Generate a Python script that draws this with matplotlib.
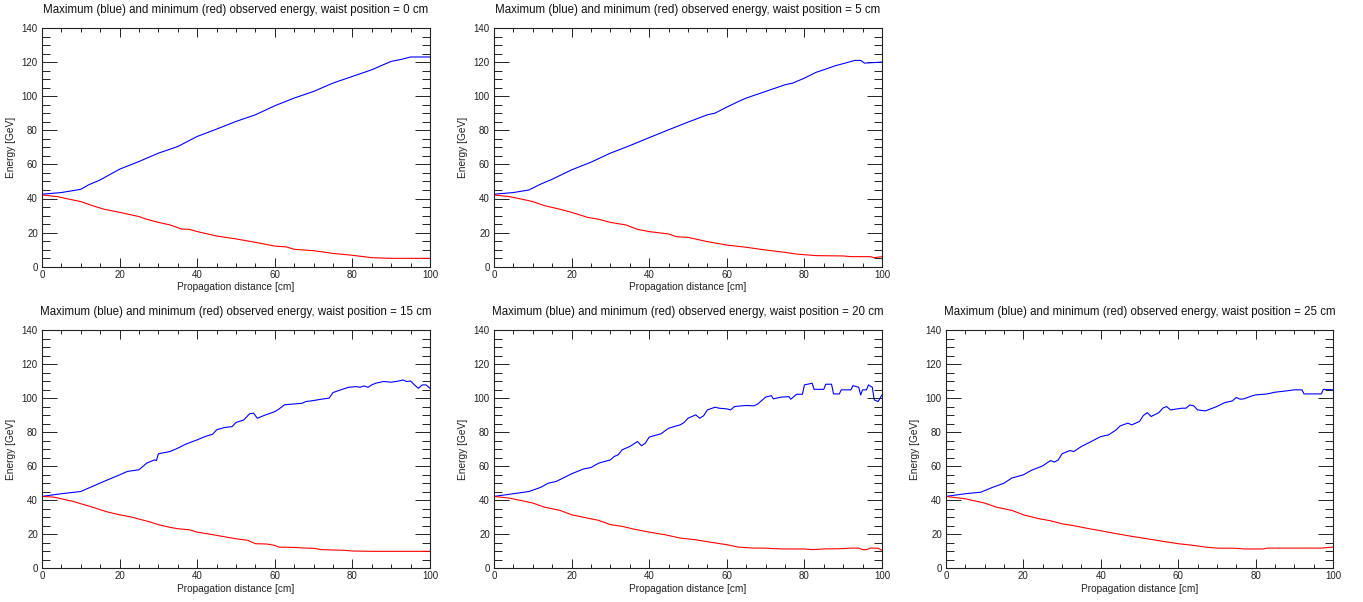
import matplotlib
matplotlib.use("Agg")
import matplotlib.pyplot as plt
from matplotlib.ticker import MultipleLocator

plt.rcParams['font.family'] = ['Liberation Sans', 'DejaVu Sans']

# ---- data ----
# waist = 0 cm
x_max_0 = [0, 5, 9, 10, 12, 15, 20, 25, 30, 35, 40, 45, 50, 55, 60, 65, 70, 75, 80, 85, 88, 90, 93, 95, 100]
e_max_0 = [42.5, 43.5, 45, 45.4, 48, 50.9, 57.2, 61.7, 66.6, 70.5, 76.4, 80.7, 85.2, 89.1, 94.4, 98.9, 102.8, 107.7, 111.6, 115.5, 118.5, 120.4, 121.8, 123, 123]
x_min_0 = [0, 4, 7, 10, 13, 16, 20, 23, 25, 27, 30, 33, 36, 38, 40, 45, 50, 55, 60, 63, 65, 70, 75, 80, 85, 90, 100]
e_min_0 = [42.1, 41.1, 39.6, 38.2, 35.8, 33.7, 31.9, 30.4, 29.4, 27.8, 26, 24.5, 22.1, 21.9, 20.6, 18, 16.3, 14.3, 12.1, 11.6, 10.2, 9.4, 7.8, 6.7, 5.3, 4.9, 4.9]

# waist = 5 cm
x_max_5 = [0, 5, 9, 12, 15, 20, 25, 30, 35, 40, 45, 50, 55, 57, 60, 63, 65, 70, 75, 77, 80, 83, 85, 88, 90, 93, 94.5, 95.5, 100]
e_max_5 = [42.5, 43.5, 45, 48.4, 51.3, 56.8, 61.3, 66.6, 71, 75.7, 80.3, 84.8, 89.1, 90.1, 93.6, 96.9, 98.9, 102.8, 106.7, 107.7, 110.6, 114, 115.5, 117.9, 119.1, 121, 121, 119.4, 120]
x_min_5 = [0, 4, 8, 10, 13, 17, 20, 24, 27, 30, 34, 37, 40, 45, 47, 50, 55, 60, 65, 70, 75, 78, 83, 90, 92, 97, 98, 100]
e_min_5 = [42.1, 41.1, 39.2, 38.2, 35.8, 33.7, 31.9, 29, 27.8, 26, 24.5, 21.9, 20.6, 19.2, 17.6, 17.2, 14.7, 12.7, 11.4, 9.8, 8.4, 7.4, 6.5, 6.3, 5.9, 5.9, 5.3, 5.9]

# waist = 15 cm
x_max_15 = [0, 5, 10, 15, 20, 22, 25, 27, 29, 29.5, 30, 33, 35, 37, 40, 42, 44, 45, 47, 49, 50, 52, 53.5, 54.5, 55.5, 57, 60, 61, 62.5, 65, 67, 68, 70, 72, 74, 75, 77, 79, 81, 82, 83, 84, 85, 86, 88, 90, 92, 93, 94, 95, 96, 97, 98, 99, 100]
e_max_15 = [42.1, 43.7, 45, 50, 54.8, 56.8, 57.8, 61.7, 63.6, 63.2, 67.2, 68.5, 70.5, 72.8, 75.4, 77.3, 78.7, 81.3, 82.6, 83.2, 85.6, 87.1, 90.7, 91.1, 88.1, 89.5, 92, 93.4, 96, 96.5, 96.9, 97.9, 98.5, 99.3, 99.9, 103.2, 104.8, 106.3, 106.7, 106.3, 107.1, 106.3, 107.7, 108.7, 109.7, 109.3, 110, 110.6, 109.7, 110, 107.7, 105.7, 107.7, 107.7, 105.7]
x_min_15 = [0, 3, 5, 8, 10, 13, 15, 17, 20, 23, 25, 28, 30, 33, 35, 38, 40, 43, 45, 48, 50, 53, 55, 58, 60, 61, 65, 68, 70, 72, 75, 78, 80, 85, 100]
e_min_15 = [42.1, 41.7, 40.7, 39.2, 37.8, 35.8, 34.3, 32.9, 31.3, 30, 28.8, 27, 25.5, 23.9, 23.1, 22.5, 21.1, 20, 19.2, 18, 17.2, 16.3, 14.3, 14.1, 13.3, 12.3, 12.1, 11.7, 11.6, 10.8, 10.6, 10.4, 10, 9.8, 9.8]

# waist = 20 cm
x_max_20 = [0, 5, 9, 12, 14, 16, 20, 23, 25, 27, 30, 31, 32, 33, 35, 37, 38, 39, 40, 42, 43, 45, 47, 48, 49, 50, 52, 53, 54, 55, 57, 58, 60, 61, 62, 65, 67, 68, 70, 71.5, 72, 74, 76, 76.5, 78, 79.5, 80, 82, 82.5, 85, 85.5, 87, 87.5, 89, 89.5, 92, 92.5, 94, 94.5, 95, 96, 96.5, 97.5, 98, 99, 100]
e_max_20 = [42.1, 43.7, 45, 47.4, 49.9, 50.9, 55.4, 58.2, 59.1, 61.7, 63.6, 65.6, 66.6, 69.5, 71.5, 74.4, 71.9, 73.4, 77, 78.3, 78.9, 82.2, 83.6, 84.2, 85.6, 88.1, 90.1, 88.1, 89.5, 93, 94.6, 94, 93.6, 93, 95, 95.6, 95.4, 96.5, 100.5, 101.4, 99.5, 100.5, 100.8, 99.3, 102.2, 102.2, 107.7, 108.7, 105.1, 105.1, 108.1, 108.1, 102.4, 102.4, 104.8, 104.8, 107.3, 106.3, 101.8, 104.8, 104.8, 107.7, 106.3, 98.9, 97.9, 101.8]
x_min_20 = [0, 4, 8, 10, 13, 17, 20, 24, 27, 30, 33, 36, 40, 44, 48, 52, 56, 60, 63, 67, 70, 72, 75, 80, 82, 85, 90, 92, 94, 95, 96, 97, 99, 100]
e_min_20 = [42.1, 41.1, 39.2, 38.2, 35.8, 33.9, 31.3, 29.4, 28, 25.5, 24.5, 22.9, 21.1, 19.6, 17.6, 16.6, 15.1, 13.7, 12.3, 11.7, 11.7, 11.4, 11.2, 11.2, 10.8, 11.2, 11.4, 11.7, 11.7, 10.8, 10.8, 11.7, 11.6, 10.4]

# waist = 25 cm
x_max_25 = [0, 5, 9, 12, 15, 17, 20, 22, 25, 27, 28, 29, 30, 32, 33, 35, 37, 40, 42, 44, 45, 47, 48, 50, 51, 52, 53, 55, 56, 57, 58, 61, 62, 63, 64, 65, 67, 70, 72, 74, 75, 76, 77, 79, 80, 83, 85, 88, 90, 92, 92.5, 97, 97.5, 100]
e_max_25 = [42.1, 43.7, 44.6, 47.4, 49.9, 52.9, 54.8, 57.4, 60.1, 63.2, 62.3, 63.6, 67.2, 69.1, 68.5, 71.5, 73.8, 77.3, 78.3, 81.3, 83.6, 85.2, 84.2, 86.2, 89.7, 91.4, 89.1, 91.4, 94, 95, 93, 94, 94, 95.9, 95.4, 93, 92.4, 95, 97.3, 98.3, 100.3, 99.3, 99.5, 101.2, 101.8, 102.4, 103.4, 104.2, 104.8, 104.8, 102.4, 102.4, 105.1, 104.8]
x_min_25 = [0, 5, 8, 10, 13, 17, 20, 24, 27, 30, 33, 37, 40, 44, 48, 52, 56, 60, 64, 67, 70, 75, 77, 82, 83, 95, 97, 100]
e_min_25 = [42.1, 40.7, 39.2, 38.2, 35.8, 33.9, 31.3, 29, 27.8, 26, 24.9, 23.1, 21.9, 20.2, 18.6, 17.2, 15.7, 14.3, 13.3, 12.3, 11.7, 11.6, 11.2, 11.2, 11.7, 11.7, 11.7, 12.3]

waists = ["0", "5", "15", "20", "25"]
xticks = [0, 20, 40, 60, 80, 100]
yticks = [0, 20, 40, 60, 80, 100, 120, 140]

panels = [
    (waists[0], x_max_0, e_max_0, x_min_0, e_min_0),
    (waists[1], x_max_5, e_max_5, x_min_5, e_min_5),
    (waists[2], x_max_15, e_max_15, x_min_15, e_min_15),
    (waists[3], x_max_20, e_max_20, x_min_20, e_min_20),
    (waists[4], x_max_25, e_max_25, x_min_25, e_min_25),
]

W, H = 1363, 602
fig = plt.figure(figsize=(W / 100, H / 100), dpi=100)

# axes boxes in pixels: (left, top, right, bottom)
boxes = [
    (42, 28, 430, 266.7),
    (494, 28, 882, 266.7),
    (42, 330, 430, 568),
    (494, 330, 882, 568),
    (946, 330, 1333, 568),
]

for (w, xa, ya, xb, yb), (l, t, r, b) in zip(panels, boxes):
    ax = fig.add_axes([l / W, 1 - b / H, (r - l) / W, (b - t) / H])
    ax.plot(xa, ya, color='#0000ff', lw=0.8)
    ax.plot(xb, yb, color='#ff0000', lw=0.8)
    ax.set_xlim(0, 100)
    ax.set_ylim(0, 140)
    ax.set_xticks(xticks)
    ax.set_yticks(yticks)
    ax.xaxis.set_minor_locator(MultipleLocator(5))
    ax.yaxis.set_minor_locator(MultipleLocator(5))
    ax.tick_params(axis='x', which='major', direction='in', length=6.5, width=0.7,
                   top=True, bottom=True, labelsize=7, pad=2.5, colors='#222222')
    ax.tick_params(axis='x', which='minor', direction='in', length=3.2, width=0.7,
                   top=True, bottom=True, colors='#222222')
    ax.tick_params(axis='y', which='major', direction='in', length=11, width=0.7,
                   left=True, right=True, labelsize=7, pad=3, colors='#222222')
    ax.tick_params(axis='y', which='minor', direction='in', length=5.5, width=0.7,
                   left=True, right=True, colors='#222222')
    for s in ax.spines.values():
        s.set_linewidth(0.8)
        s.set_color('#222222')
    ax.set_xlabel('Propagation distance [cm]', fontsize=7.3, labelpad=1.5, color='#222222')
    ax.set_ylabel('Energy [GeV]', fontsize=7.3, labelpad=4, color='#222222')
    ax.set_title(f'Maximum (blue) and minimum (red) observed energy, waist position = {w} cm',
                 fontsize=8.3, pad=11, color='#111111')

fig.savefig('out.png', dpi=100)
